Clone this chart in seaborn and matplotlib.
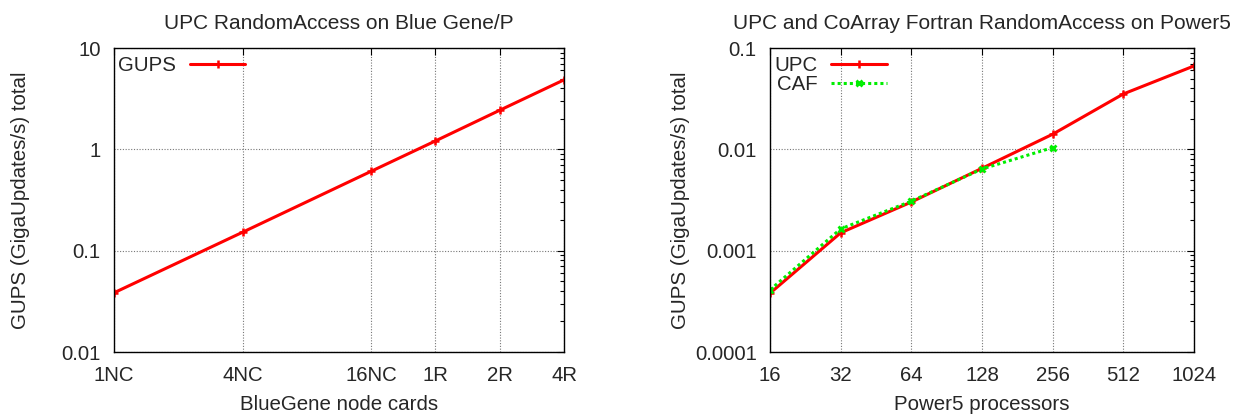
import matplotlib
matplotlib.use("Agg")
import matplotlib.pyplot as plt
import matplotlib.ticker as mticker
import numpy as np
import pandas as pd
import seaborn as sns

# ---- data ----
bg_nodecards = [1, 4, 16, 32, 64, 128]
bg_labels = ["1NC", "4NC", "16NC", "1R", "2R", "4R"]
bg_gups = [0.0384, 0.152, 0.607, 1.21, 2.43, 4.85]

p5_procs = [16, 32, 64, 128, 256, 512, 1024]
p5_upc = [0.00038, 0.0015, 0.00302, 0.0065, 0.0141, 0.0352, 0.0665]
caf_procs = [16, 32, 64, 128, 256]
p5_caf = [0.00041, 0.00164, 0.00308, 0.0064, 0.0104]

left_yticks = [0.01, 0.1, 1, 10]
left_ylabels = ["0.01", "0.1", "1", "10"]
right_yticks = [0.0001, 0.001, 0.01, 0.1]
right_ylabels = ["0.0001", "0.001", "0.01", "0.1"]

sns.set_style("white")
plt.rcParams['font.family'] = ['Liberation Sans', 'DejaVu Sans']

fig = plt.figure(figsize=(12.4, 4.18), dpi=100)
W, H = 1240, 418
axL = fig.add_axes([114 / W, (H - 352) / H, 450 / W, 304 / H])
axR = fig.add_axes([770 / W, (H - 352) / H, 424 / W, 304 / H])

dfL = pd.DataFrame({"x": bg_nodecards, "y": bg_gups, "series": "GUPS"})
dfR = pd.concat([
    pd.DataFrame({"x": p5_procs, "y": p5_upc, "series": "UPC"}),
    pd.DataFrame({"x": caf_procs, "y": p5_caf, "series": "CAF"}),
])

RED = "#ff0000"
GREEN = "#00ee00"

sns.lineplot(data=dfL, x="x", y="y", ax=axL, color=RED, lw=2.2,
             marker="+", markersize=6, mew=1.8, mec=RED, mfc=RED,
             label="GUPS", legend=False)
sns.lineplot(data=dfR[dfR.series == "UPC"], x="x", y="y", ax=axR, color=RED,
             lw=2.2, marker="+", markersize=6, mew=1.8, mec=RED, mfc=RED,
             label="UPC", legend=False)
sns.lineplot(data=dfR[dfR.series == "CAF"], x="x", y="y", ax=axR, color=GREEN,
             lw=2.2, ls=(0, (1, 1)), marker="x", markersize=5, mew=2.0,
             mec=GREEN, mfc=GREEN, label="CAF", legend=False)

tick_fs = 14.7
lab_fs = 14.8
title_fs = 15

for ax in (axL, axR):
    ax.set_xscale("log", base=2)
    ax.set_yscale("log")
    ax.grid(True, which="major", color="#777777", ls=(0, (1, 1.5)), lw=0.8)
    ax.tick_params(which="both", direction="in", top=True, right=True,
                   labelsize=tick_fs, color="black")
    ax.tick_params(axis="y", which="major", pad=9.5)
    ax.tick_params(axis="x", which="major", pad=10)
    ax.tick_params(which="major", length=5, width=0.8)
    ax.tick_params(which="minor", length=3, width=0.8)
    ax.xaxis.set_minor_locator(mticker.NullLocator())
    for s in ax.spines.values():
        s.set_color("black")
        s.set_linewidth(1.0)
    ax.set_ylabel("GUPS (GigaUpdates/s) total", fontsize=lab_fs)

axL.yaxis.set_label_coords(-84 / 450, 0.5)
axR.yaxis.set_label_coords(-80 / 424, 0.5)

axL.set_xlim(1, 128)
axL.set_xticks(bg_nodecards)
axL.set_xticklabels(bg_labels)
axL.set_ylim(0.01, 10)
axL.set_yticks(left_yticks)
axL.set_yticklabels(left_ylabels)
axL.yaxis.set_minor_locator(mticker.LogLocator(base=10, subs=np.arange(2, 10)))
axL.yaxis.set_minor_formatter(mticker.NullFormatter())
axL.set_xlabel("BlueGene node cards", fontsize=lab_fs, labelpad=7)
axL.set_title("UPC RandomAccess on Blue Gene/P", fontsize=title_fs, pad=14)

axR.set_xlim(16, 1024)
axR.set_xticks(p5_procs)
axR.set_xticklabels([str(p) for p in p5_procs])
axR.set_ylim(0.0001, 0.1)
axR.set_yticks(right_yticks)
axR.set_yticklabels(right_ylabels)
axR.yaxis.set_minor_locator(mticker.LogLocator(base=10, subs=np.arange(2, 10)))
axR.yaxis.set_minor_formatter(mticker.NullFormatter())
axR.set_xlabel("Power5 processors", fontsize=lab_fs, labelpad=7)
axR.set_title("UPC and CoArray Fortran RandomAccess on Power5", fontsize=title_fs, pad=14)

for ax in (axL, axR):
    ax.legend(loc="upper left", bbox_to_anchor=(0, 0.987), frameon=False,
              markerfirst=False, fontsize=tick_fs,
              handlelength=2.7, handletextpad=0.7, borderaxespad=0.1,
              borderpad=0.1, labelspacing=0.0)

fig.savefig("out.png", dpi=100)
